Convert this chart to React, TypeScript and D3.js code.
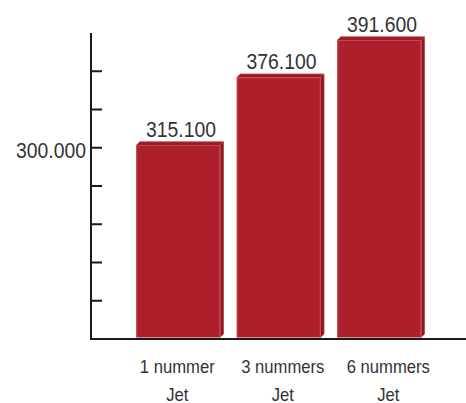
import { useMemo } from 'react'
import * as d3 from 'd3'

const categories = ['1 nummer', '3 nummers', '6 nummers']
const subLabels = ['Jet', 'Jet', 'Jet']
const values = [315.1, 376.1, 391.6]
const valueLabels = ['315.100', '376.100', '391.600']
const axisLabelValue = 300
const axisLabel = '300.000'
const tickSlots = 8

const WIDTH = 466
const HEIGHT = 403
const FONT = '"Liberation Sans", Arial, sans-serif'
const SQUEEZE = 0.9

const FRONT = '#ad1f2b'
const TOP = '#9c1a24'
const SIDE = '#8c1720'
const EDGE = '#c9525b'
const TEXT = '#333333'

// condensed look: Liberation Sans squeezed horizontally
const NarrowText = ({
  x,
  y,
  size,
  anchor = 'middle',
  children,
}: {
  x: number
  y: number
  size: number
  anchor?: 'start' | 'middle' | 'end'
  children: string
}) => (
  <text
    transform={`translate(${x},${y}) scale(${SQUEEZE},1)`}
    textAnchor={anchor}
    fontSize={size}
    fill={TEXT}
  >
    {children}
  </text>
)

export default function App() {
  const margin = useMemo(() => ({ top: 33, left: 91, right: 0, bottom: 64 }), [])
  const baseY = HEIGHT - margin.bottom - 1.5
  const depth = 3.5

  const { x, y, axisY, labelX } = useMemo(() => {
    const xScale = d3
      .scaleBand<string>()
      .domain(categories)
      .range([128, 429.5])
      .paddingInner(0.164)
      .paddingOuter(0.082)

    // the source graphic is drawn with a strongly stretched value axis
    const yScale = d3
      .scalePow()
      .exponent(9)
      .domain([axisLabelValue, d3.max(values) as number])
      .range([147.75, 36.5])

    const axisScale = d3
      .scaleLinear()
      .domain([0, tickSlots])
      .range([339, margin.top])

    const lx = d3.scalePoint<string>().domain(categories).range([177.3, 388.3])

    return { x: xScale, y: yScale, axisY: axisScale, labelX: lx }
  }, [margin])

  const bw = x.bandwidth()
  const ticks = d3.range(1, tickSlots)

  return (
    <svg
      width={WIDTH}
      height={HEIGHT}
      style={{ position: 'absolute', left: 0, top: 0, background: '#fff' }}
      fontFamily={FONT}
    >
      {categories.map((c, i) => {
        const x0 = x(c) as number
        const top = y(values[i])
        const front = top + depth
        return (
          <g key={c}>
            <path
              d={`M${x0},${front}L${x0 + depth},${top}L${x0 + bw + depth},${top}L${x0 + bw},${front}Z`}
              fill={TOP}
            />
            <path
              d={`M${x0 + bw},${front}L${x0 + bw + depth},${top}L${x0 + bw + depth},${baseY - depth}L${x0 + bw},${baseY}Z`}
              fill={SIDE}
            />
            <rect x={x0} y={front} width={bw} height={baseY - front} fill={FRONT} />
            <path
              d={`M${x0 + 0.5},${baseY}V${front + 0.5}H${x0 + bw - 0.5}V${baseY}`}
              fill="none"
              stroke={EDGE}
              strokeWidth={0.8}
            />
            <path
              d={`M${x0 + depth},${top + 0.4}H${x0 + bw + depth - 0.4}V${baseY - depth}`}
              fill="none"
              stroke={EDGE}
              strokeWidth={0.6}
              opacity={0.7}
            />
            <NarrowText x={x0 + (bw + depth) / 2 + 1} y={top - 5} size={21.5}>
              {valueLabels[i]}
            </NarrowText>
          </g>
        )
      })}

      <g stroke="#1a1a1a">
        <line x1={margin.left} x2={margin.left} y1={axisY(tickSlots)} y2={axisY(0) + 1} strokeWidth={2} />
        <line x1={margin.left - 1} x2={WIDTH} y1={axisY(0)} y2={axisY(0)} strokeWidth={2} />
        {ticks.map((t) => (
          <line
            key={t}
            x1={margin.left}
            x2={margin.left + 11}
            y1={axisY(t)}
            y2={axisY(t)}
            strokeWidth={2}
          />
        ))}
      </g>

      <NarrowText x={86} y={y(axisLabelValue) + 10.5} size={21.5} anchor="end">
        {axisLabel}
      </NarrowText>

      {categories.map((c, i) => (
        <g key={c}>
          <NarrowText x={labelX(c) as number} y={372.5} size={18.5}>
            {c}
          </NarrowText>
          <NarrowText x={labelX(c) as number} y={400.5} size={18.5}>
            {subLabels[i]}
          </NarrowText>
        </g>
      ))}
    </svg>
  )
}
